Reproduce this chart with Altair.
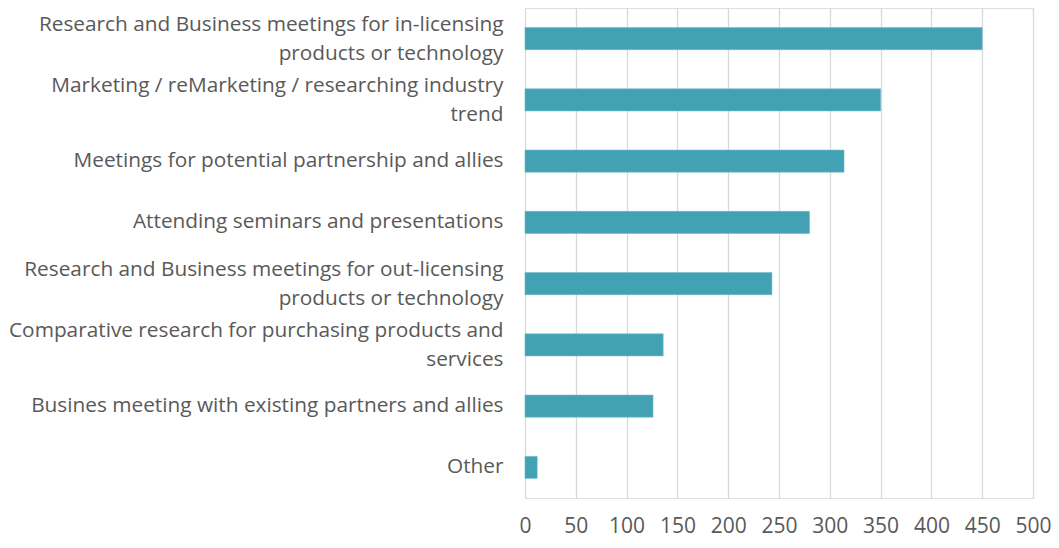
import altair as alt
import pandas as pd

categories = [
    ["Research and Business meetings for in-licensing", "products or technology"],
    ["Marketing / reMarketing / researching industry", "trend"],
    ["Meetings for potential partnership and allies"],
    ["Attending seminars and presentations"],
    ["Research and Business meetings for out-licensing", "products or technology"],
    ["Comparative research for purchasing products and", "services"],
    ["Busines meeting with existing partners and allies"],
    ["Other"],
]
values = [450, 350, 314, 280, 243, 136, 126, 12]
x_ticks = [0, 50, 100, 150, 200, 250, 300, 350, 400, 450, 500]

keys = ["|".join(c) for c in categories]
df = pd.DataFrame({"cat": keys, "value": values})

FONT = "Open Sans"
GRAY = "#595959"

chart = alt.Chart(df).mark_bar(color="#42A2B4", stroke="#6CB9C7", strokeWidth=0.6).encode(
    y=alt.Y(
        "cat:N",
        sort=keys,
        title=None,
        scale=alt.Scale(paddingInner=0.64, paddingOuter=0.32),
        axis=alt.Axis(
            labelExpr="split(datum.label, '|')",
            labelFont=FONT,
            labelFontSize=20.8,
            labelColor=GRAY,
            labelLineHeight=29,
            labelPadding=22,
            labelLimit=700,
            labelOffset={"expr": "indexof(datum.label, '|') >= 0 ? -14 : 0"},
            ticks=False,
            domain=False,
            grid=False,
        ),
    ),
    x=alt.X(
        "value:Q",
        title=None,
        scale=alt.Scale(domain=[0, 500], nice=False),
        axis=alt.Axis(
            values=x_ticks,
            labelFont=FONT,
            labelFontSize=21,
            labelColor=GRAY,
            labelPadding=17,
            labelOverlap=False,
            labelFlush=False,
            ticks=False,
            domain=False,
            grid=True,
            gridColor="#D9D9D9",
            gridWidth=1.3,
        ),
    ),
).properties(
    width=508,
    height=490,
    autosize=alt.AutoSizeParams(type="none"),
    padding={"left": 517, "top": 0, "right": 18, "bottom": 42},
).configure_view(stroke=None).configure(background="white")

chart.save("out.html", embed_options={"renderer": "svg", "actions": False})
